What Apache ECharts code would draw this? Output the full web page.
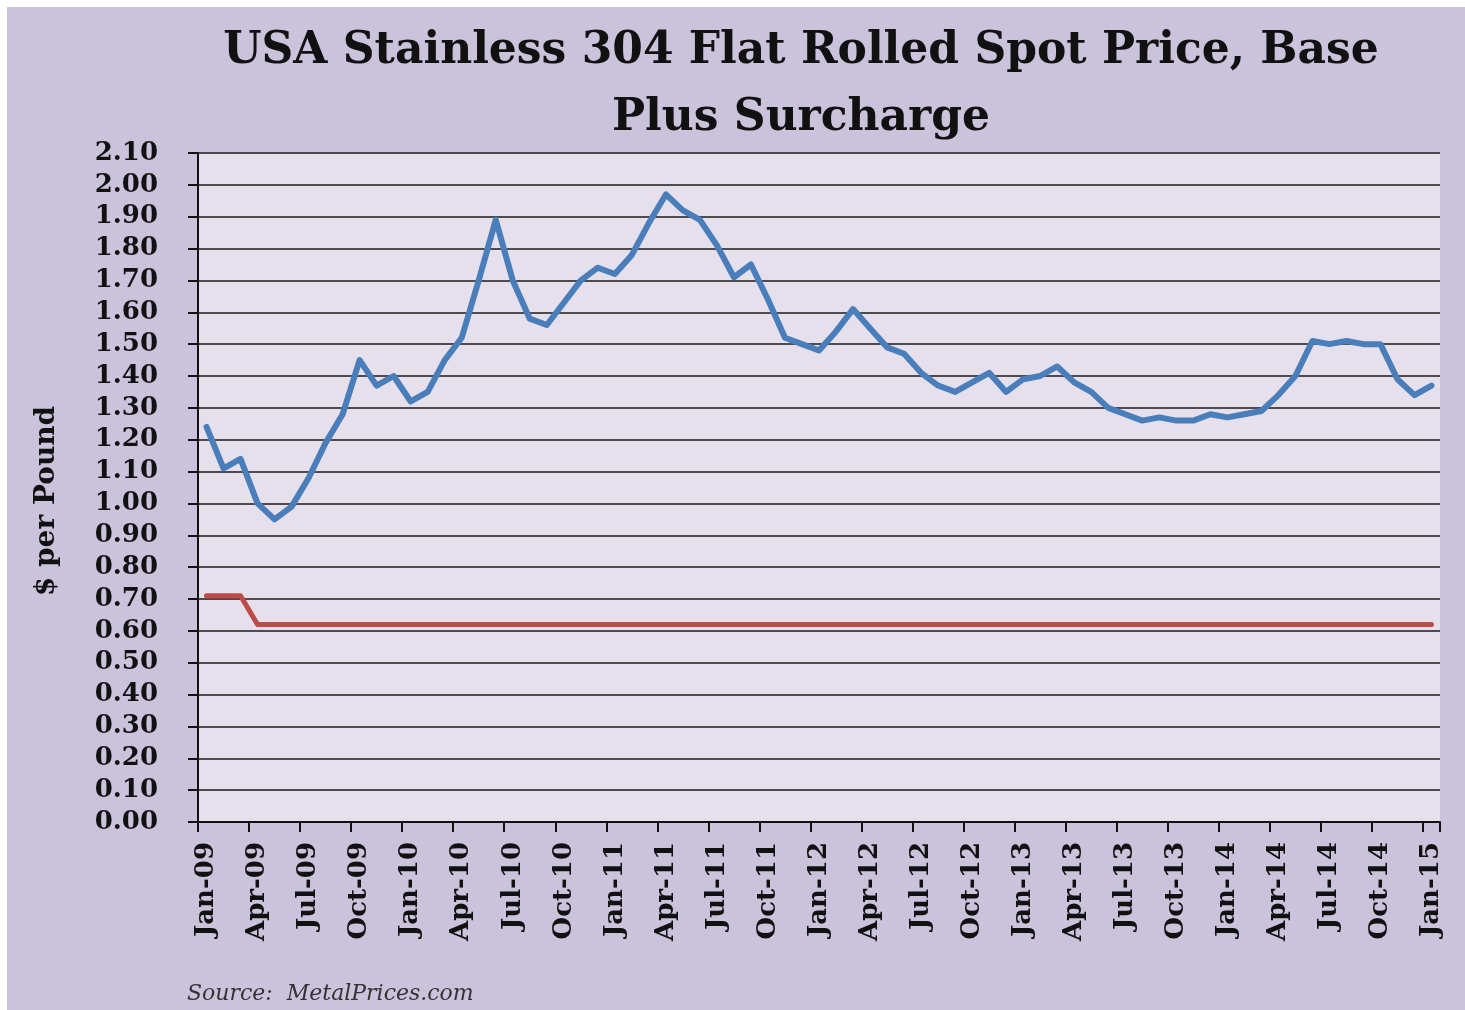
<!DOCTYPE html>
<html>
<head>
<meta charset="utf-8">
<title>USA Stainless 304 Flat Rolled Spot Price</title>
<script src="https://cdn.jsdelivr.net/npm/echarts@6/dist/echarts.min.js"></script>
<style>
  html, body { margin: 0; padding: 0; background: #ffffff; }
  #bg { position: absolute; left: 7px; top: 7px; right: 0; bottom: 0; background: #cbc3dc; }
  #chart { position: absolute; left: 0; top: 0; width: 1465px; height: 1010px; }
</style>
</head>
<body>
<div id="bg"></div>
<div id="chart"></div>
<script>
// Monthly categories, Jan-09 through Jan-15
const months = [
  'Jan-09','Feb-09','Mar-09','Apr-09','May-09','Jun-09','Jul-09','Aug-09','Sep-09','Oct-09','Nov-09','Dec-09',
  'Jan-10','Feb-10','Mar-10','Apr-10','May-10','Jun-10','Jul-10','Aug-10','Sep-10','Oct-10','Nov-10','Dec-10',
  'Jan-11','Feb-11','Mar-11','Apr-11','May-11','Jun-11','Jul-11','Aug-11','Sep-11','Oct-11','Nov-11','Dec-11',
  'Jan-12','Feb-12','Mar-12','Apr-12','May-12','Jun-12','Jul-12','Aug-12','Sep-12','Oct-12','Nov-12','Dec-12',
  'Jan-13','Feb-13','Mar-13','Apr-13','May-13','Jun-13','Jul-13','Aug-13','Sep-13','Oct-13','Nov-13','Dec-13',
  'Jan-14','Feb-14','Mar-14','Apr-14','May-14','Jun-14','Jul-14','Aug-14','Sep-14','Oct-14','Nov-14','Dec-14',
  'Jan-15'
];

// Spot price, base plus surcharge ($ per pound)
const spotPrice = [
  1.24, 1.11, 1.14, 1.00, 0.95, 0.99, 1.08, 1.19, 1.28, 1.45, 1.37, 1.40,
  1.32, 1.35, 1.45, 1.52, 1.70, 1.89, 1.70, 1.58, 1.56, 1.63, 1.70, 1.74,
  1.72, 1.78, 1.88, 1.97, 1.92, 1.89, 1.81, 1.71, 1.75, 1.64, 1.52, 1.50,
  1.48, 1.54, 1.61, 1.55, 1.49, 1.47, 1.41, 1.37, 1.35, 1.38, 1.41, 1.35,
  1.39, 1.40, 1.43, 1.38, 1.35, 1.30, 1.28, 1.26, 1.27, 1.26, 1.26, 1.28,
  1.27, 1.28, 1.29, 1.34, 1.40, 1.51, 1.50, 1.51, 1.50, 1.50, 1.39, 1.34,
  1.37
];

// Base price ($ per pound)
const basePrice = [
  0.71, 0.71, 0.71, 0.62, 0.62, 0.62, 0.62, 0.62, 0.62, 0.62, 0.62, 0.62,
  0.62, 0.62, 0.62, 0.62, 0.62, 0.62, 0.62, 0.62, 0.62, 0.62, 0.62, 0.62,
  0.62, 0.62, 0.62, 0.62, 0.62, 0.62, 0.62, 0.62, 0.62, 0.62, 0.62, 0.62,
  0.62, 0.62, 0.62, 0.62, 0.62, 0.62, 0.62, 0.62, 0.62, 0.62, 0.62, 0.62,
  0.62, 0.62, 0.62, 0.62, 0.62, 0.62, 0.62, 0.62, 0.62, 0.62, 0.62, 0.62,
  0.62, 0.62, 0.62, 0.62, 0.62, 0.62, 0.62, 0.62, 0.62, 0.62, 0.62, 0.62,
  0.62
];

const FONT = '"DejaVu Serif", "Liberation Serif", serif';

const chart = echarts.init(document.getElementById('chart'), null, { renderer: 'canvas' });

chart.setOption({
  backgroundColor: 'transparent',
  animation: false,
  title: {
    text: 'USA Stainless 304 Flat Rolled Spot Price, Base\nPlus Surcharge',
    left: 796,
    top: 13,
    textAlign: 'center',
    textStyle: {
      fontFamily: FONT,
      fontWeight: 'bold',
      fontSize: 44,
      lineHeight: 67,
      color: '#111'
    }
  },
  grid: {
    left: 198,
    right: 25,
    top: 153,
    bottom: 188,
    show: true,
    backgroundColor: '#e5e0ec',
    borderWidth: 0
  },
  xAxis: {
    type: 'category',
    data: months,
    boundaryGap: true,
    axisLine: { show: true, lineStyle: { color: '#111', width: 2 } },
    axisTick: { show: true, interval: 2, length: 10, lineStyle: { color: '#111', width: 2 } },
    axisLabel: {
      interval: 2,
      rotate: 90,
      margin: 20,
      fontFamily: FONT,
      fontWeight: 'bold',
      fontSize: 26,
      color: '#111'
    },
    splitLine: { show: false }
  },
  yAxis: {
    type: 'value',
    min: 0,
    max: 2.1,
    interval: 0.1,
    axisLine: { show: true, lineStyle: { color: '#111', width: 2 } },
    axisTick: { show: true, length: 10, lineStyle: { color: '#111', width: 2 } },
    axisLabel: {
      margin: 40,
      fontFamily: FONT,
      fontWeight: 'bold',
      fontSize: 26,
      color: '#111',
      formatter: v => v.toFixed(2)
    },
    splitLine: { show: true, lineStyle: { color: '#1a1a1a', width: 1.6 } }
  },
  series: [
    {
      name: 'Base Plus Surcharge',
      type: 'line',
      data: spotPrice,
      symbol: 'none',
      lineStyle: { color: '#4a7ebb', width: 6, join: 'round', cap: 'round' },
      itemStyle: { color: '#4a7ebb' },
      z: 3
    },
    {
      name: 'Base',
      type: 'line',
      data: basePrice,
      symbol: 'none',
      lineStyle: { color: '#be4b48', width: 5, join: 'round', cap: 'round' },
      itemStyle: { color: '#be4b48' },
      z: 2
    }
  ],
  graphic: [
    {
      type: 'text',
      x: 47,
      y: 501,
      rotation: Math.PI / 2,
      style: {
        text: '$ per Pound',
        fontFamily: FONT,
        fontWeight: 'bold',
        fontSize: 28,
        fill: '#111',
        textAlign: 'center',
        textVerticalAlign: 'middle'
      }
    },
    {
      type: 'text',
      x: 187,
      y: 994,
      style: {
        text: 'Source:  MetalPrices.com',
        fontFamily: FONT,
        fontStyle: 'italic',
        fontSize: 22,
        fill: '#333',
        textAlign: 'left',
        textVerticalAlign: 'middle'
      }
    }
  ]
});
</script>
</body>
</html>
